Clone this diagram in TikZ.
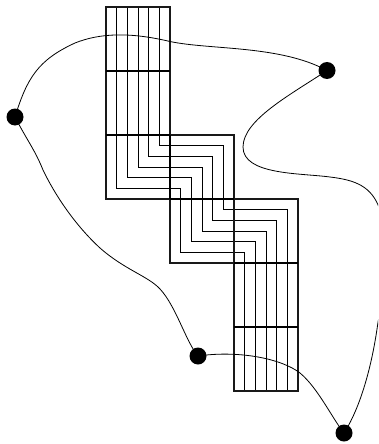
\documentclass[tikz,border=0pt]{standalone}
\begin{document}
\begin{tikzpicture}[x=1pt,y=-1pt,
  wire/.style={line width=0.8pt,black},
  frame/.style={line width=1.1pt,black!90},
  seam/.style={line width=1.5pt,black},
  blob/.style={line width=0.8pt,black,line join=round},
  dot/.style={circle,fill=black,draw=none,inner sep=0pt,minimum size=17pt}]
\useasboundingbox (0,0) rectangle (378,444);
\clip (0,0) rectangle (378,444);
% strands
\foreach \k in {1,...,5}{
  \pgfmathsetmacro{\dd}{\k*64/6}
  \pgfmathsetmacro{\ee}{64-\dd}
  \draw[wire] (106+\dd,7) -- (106+\dd,135+\ee) -- (170+\dd,135+\ee) -- (170+\dd,199+\ee) -- (234+\dd,199+\ee) -- (234+\dd,391);
}
% frames
\draw[frame] (106,7) rectangle (170,199);
\draw[frame] (170,135) rectangle (234,263);
\draw[frame] (234,199) rectangle (298,391);
\draw[seam] (106,71) -- (170,71);
\draw[seam] (106,135) -- (170,135);
\draw[seam] (170,135) -- (170,199);
\draw[seam] (170,199) -- (234,199);
\draw[seam] (234,263) -- (298,263);
\draw[seam] (234,327) -- (298,327);
% dots
\node[dot] (a) at (15,117) {};
\node[dot] (b) at (327,70.5) {};
\node[dot] (c) at (344,433) {};
\node[dot] (d) at (198,356) {};
% blob
\draw[blob] (a.center) .. controls (27,78) and (38,60) .. (75,43)
  .. controls (100,33) and (130,32) .. (170,41.5)
  .. controls (210,50) and (280,45) .. (b.center);
\draw[blob] (b.center) .. controls (290,95) and (243,120) .. (243,147)
  .. controls (243,175) and (300,173) .. (330,177)
  .. controls (355,180) and (372,186) .. (380,210)
  .. controls (395,250) and (385,290) .. (378,322)
  .. controls (373,360) and (362,405) .. (c.center);
\draw[blob] (c.center) .. controls (332,418) and (318,388) .. (300,373)
  .. controls (282,359) and (240,350) .. (d.center);
\draw[blob] (d.center) .. controls (186,342) and (176,306) .. (160,289)
  .. controls (148,276) and (125,270) .. (100,248)
  .. controls (75,225) and (55,195) .. (43,170)
  .. controls (35,150) and (28,142) .. (a.center);
\end{tikzpicture}
\end{document}
